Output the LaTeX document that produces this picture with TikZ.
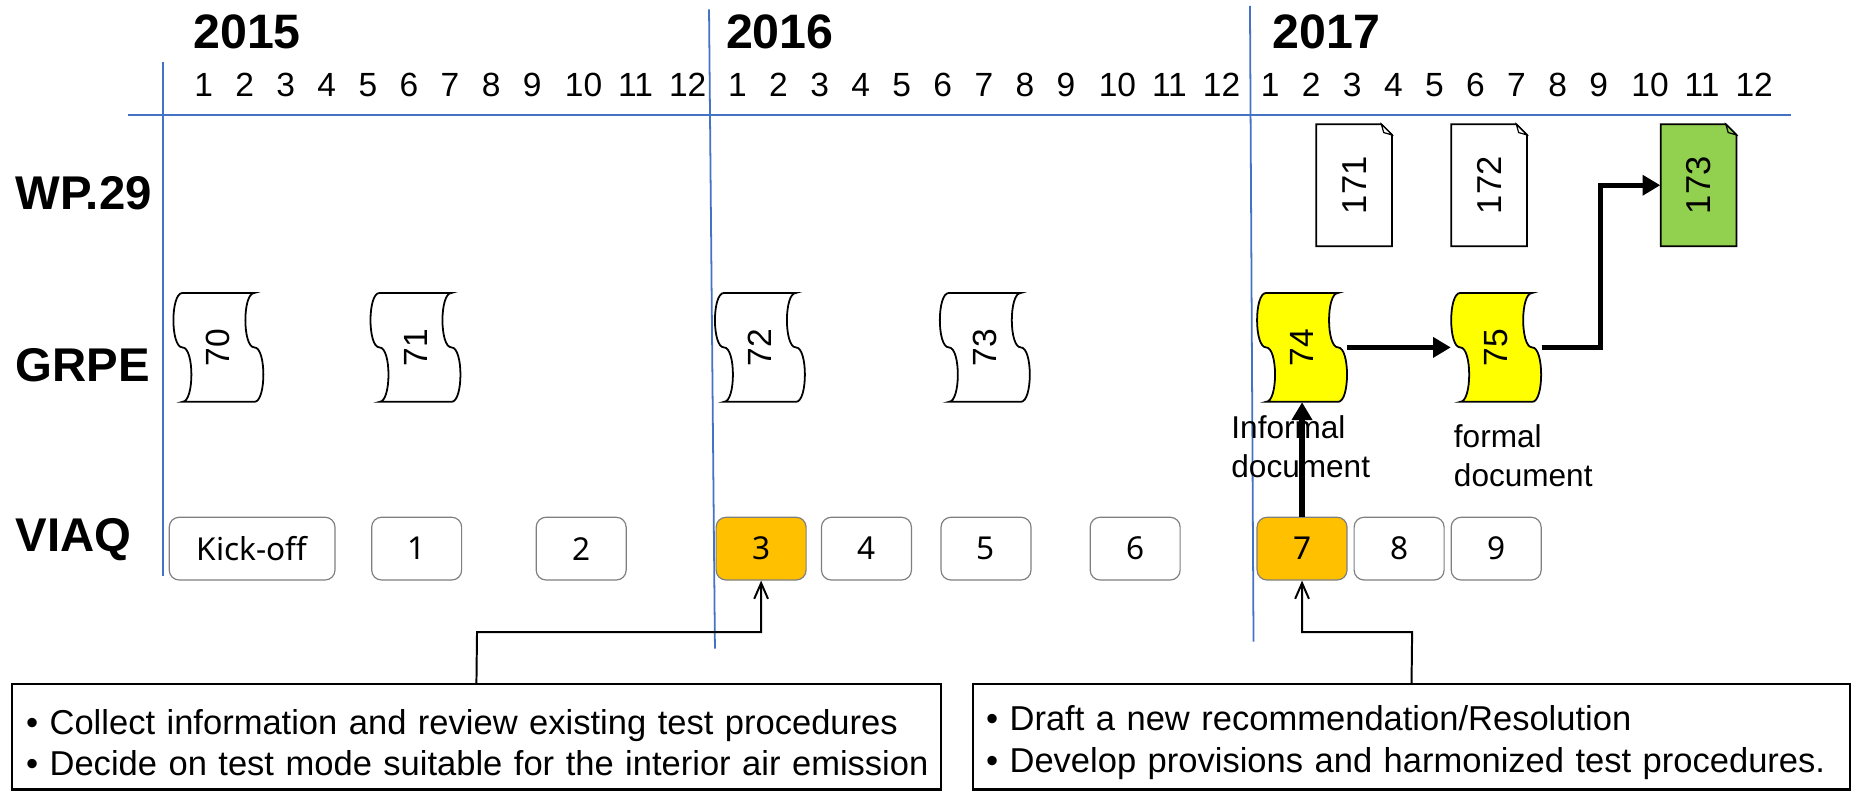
\documentclass[tikz,border=0pt]{standalone}
\usepackage{fontspec}
\setmainfont{Liberation Sans}
\newfontfamily\viaqfont{Noto Sans}
\usetikzlibrary{arrows.meta,calc}
\definecolor{axisblue}{HTML}{4472C4}
\definecolor{orangefill}{HTML}{FFC000}
\definecolor{yellowfill}{HTML}{FFFF00}
\definecolor{greenfill}{HTML}{92D050}
\definecolor{boxgray}{HTML}{7F7F7F}
\tikzset{
  month/.style={font=\fontsize{17}{20}\selectfont, inner sep=0},
  yearlab/.style={font=\bfseries\fontsize{24.5}{28}\selectfont, inner sep=0, anchor=west},
  rowlab/.style={font=\bfseries\fontsize{24}{28}\selectfont, inner sep=0, anchor=base west},
  axisline/.style={draw=axisblue, line width=1.1pt},
  yearline/.style={draw=axisblue, line width=0.9pt},
  viaqbox/.style={draw=boxgray, line width=0.6pt, rounded corners=5pt, fill=white,
    minimum width=45.6pt, minimum height=31.8pt, inner sep=0,
    font=\viaqfont\fontsize{16}{19}\selectfont},
  hotbox/.style={viaqbox, fill=orangefill},
  scrolllab/.style={minimum width=45.6pt, minimum height=55.2pt, inner sep=0,
    font=\fontsize{17}{20}\selectfont},
  doclab/.style={minimum width=38.4pt, minimum height=61.8pt, inner sep=0,
    font=\fontsize{17.5}{20}\selectfont},
  shapeline/.style={draw=black, line width=0.9pt},
  notebox/.style={draw=black, line width=1.2pt, minimum height=53.4pt, align=left,
    font=\fontsize{17.5}{21}\selectfont},
  notelab/.style={font=\fontsize{16}{19.8}\selectfont, align=left, inner sep=0, anchor=north west},
  bigarrow/.style={line width=2.6pt, -{Triangle[length=9pt,width=10pt]}},
  thinarrow/.style={line width=1pt, -{Straight Barb[length=8pt,width=7pt]}}
}
% GRPE scroll: name, centre x, text, fill
\newcommand{\grpescroll}[4]{%
  \filldraw[shapeline, fill=#4] ({#2-30.4},247.5)
    .. controls ({#2-40.53},247.5) and ({#2-40.53},293.5) .. ({#2-30.4},293.5)
    .. controls ({#2-20.27},293.5) and ({#2-20.27},339.5) .. ({#2-30.4},339.5)
    -- ({#2+30.4},339.5)
    .. controls ({#2+40.53},339.5) and ({#2+40.53},293.5) .. ({#2+30.4},293.5)
    .. controls ({#2+20.27},293.5) and ({#2+20.27},247.5) .. ({#2+30.4},247.5)
    -- cycle;
  \node[scrolllab] (#1) at (#2,293.5) {\rotatebox{90}{#3}};
}
% WP.29 document: name, centre x, text, fill
\newcommand{\wpdoc}[4]{%
  \filldraw[shapeline, fill=#4] ({#2-32},105) -- ({#2+23},105) -- ({#2+32},114)
    -- ({#2+32},208) -- ({#2-32},208) -- cycle;
  \filldraw[draw=black, line width=0.6pt, fill=#4] ({#2+23},105) -- ({#2+25},112) -- ({#2+32},114) -- cycle;
  \node[doclab] (#1) at (#2,156.5) {\rotatebox{90}{#3}};
}
\begin{document}
\begin{tikzpicture}[x=0.6pt,y=-0.6pt]
\useasboundingbox (0,0) rectangle (1568,670);
% axis lines
\draw[axisline] (108,97) -- (1513,97);
\draw[yearline] (138,52) -- (138,487);
\draw[yearline] (599,8) -- (604,548);
\draw[yearline] (1056,5) -- (1059,542);
% years
\node[yearlab] (y2015) at (163,27) {2015};
\node[yearlab] (y2016) at (613,27) {2016};
\node[yearlab] (y2017) at (1075,27) {2017};
% months
\foreach \s/\yr in {172/2015,623/2016,1073/2017}{
  \foreach \m/\off in {1/0,2/34.7,3/69.4,4/104.1,5/138.8,6/173.5,7/208.2,8/242.9,9/277.6,10/321,11/365,12/409}{
    \node[month] (m\yr-\m) at ({\s+\off},72) {\m};
  }
}
% row labels
\node[rowlab] (rwp) at (13,177) {WP.29};
\node[rowlab] (rgrpe) at (13,322) {GRPE};
\node[rowlab] (rviaq) at (13,466) {VIAQ};
% WP.29 documents
\wpdoc{d171}{1144}{171}{white}
\wpdoc{d172}{1258}{172}{white}
\wpdoc{d173}{1435}{173}{greenfill}
% GRPE sessions
\grpescroll{g70}{184.5}{70}{white}
\grpescroll{g71}{351}{71}{white}
\grpescroll{g72}{642}{72}{white}
\grpescroll{g73}{832}{73}{white}
\grpescroll{g74}{1100}{74}{yellowfill}
\grpescroll{g75}{1264}{75}{yellowfill}
% VIAQ meetings
\node[viaqbox, minimum width=84pt] (v0) at (213,463.5) {Kick-off};
\node[viaqbox] (v1) at (352,463.5) {1};
\node[viaqbox] (v2) at (491,463.5) {2};
\node[hotbox] (v3) at (643,463.5) {3};
\node[viaqbox] (v4) at (732,463.5) {4};
\node[viaqbox] (v5) at (833,463.5) {5};
\node[viaqbox] (v6) at (959,463.5) {6};
\node[hotbox] (v7) at (1100,463.5) {7};
\node[viaqbox] (v8) at (1182,463.5) {8};
\node[viaqbox] (v9) at (1264,463.5) {9};
% labels
\node[notelab] (linf) at (1040,350.5) {Informal\\document};
\node[notelab] (lform) at (1228,358.5) {formal\\document};
% bottom notes
\node[notebox, minimum width=471pt, text width=456.6pt, inner xsep=7.2pt] (nleft) at (402.5,622.5)
  {\rule{0pt}{18.5pt}\mbox{• Collect information and review existing test procedures}\\\mbox{• Decide on test mode suitable for the interior air emission}};
\node[notebox, minimum width=444.6pt, text width=431.4pt, inner xsep=6.6pt] (nright) at (1192.5,622.5)
  {\rule{0pt}{18.5pt}\mbox{• Draft a new recommendation/Resolution}\\\mbox{• Develop provisions and harmonized test procedures.}};
% connectors
\coordinate (kl) at (403,534);
\coordinate (kr) at (1193,534);
\draw[thinarrow] (nleft.north) -- (kl) -| (v3.south);
\draw[thinarrow] (nright.north) -- (kr) -| (v7.south);
\draw[bigarrow] (v7.north) -- (g74.south);
\draw[bigarrow] (g74.east) -- (g75.west);
\coordinate (elb) at (1352,156.5);
\draw[bigarrow] (g75.east) -| (elb) -- (d173.west);
\end{tikzpicture}
\end{document}
